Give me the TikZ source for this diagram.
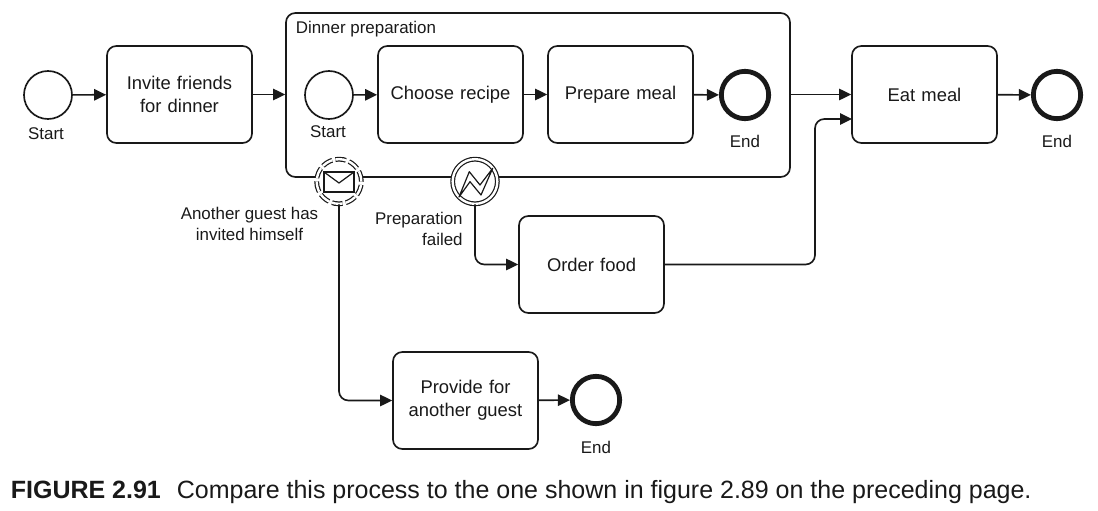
\documentclass[tikz,border=0pt]{standalone}
\usepackage{fontspec}
\setmainfont{Liberation Sans}
\usetikzlibrary{arrows.meta}
\begin{document}
\begin{tikzpicture}[x=0.75pt,y=-0.75pt,
        >={Triangle[length=9pt,width=8.5pt]},
        line width=1.25pt,
        color=black!90,
        task/.style = {draw, rounded corners=7pt, minimum width=108.75pt, minimum height=72.75pt,
                text width=100pt, align=center, inner sep=0pt, font=\fontsize{13.8}{17}\selectfont},
        startevt/.style = {draw, circle, minimum size=36pt, inner sep=0pt},
        endevt/.style = {draw, circle, line width=3.6pt, minimum size=35.5pt, inner sep=0pt},
        boundevt/.style = {draw, circle, double, double distance=1.8pt, line width=0.9pt, fill=white,
                minimum size=33.5pt, inner sep=0pt},
        lbl/.style = {inner sep=0pt, align=center, font=\fontsize{12.7}{15.75}\selectfont},
        flow/.style = {->, rounded corners=7pt},
    ]
    \useasboundingbox (0,0) rectangle (1098,510);

    \node[draw, rounded corners=7pt, minimum width=378pt, minimum height=123pt, inner sep=0pt] (dinner) at (538,95) {};
    \node[lbl, anchor=west] (dinnerlbl) at (295,29) {Dinner preparation};

    \node[startevt] (start) at (48,95) {};
    \node[lbl] (startlbl) at (46,134) {Start};
    \node[task] (invite) at (179.5,94.5) {Invite friends\\for dinner};

    \node[startevt] (innerstart) at (329,95) {};
    \node[lbl] (innerstartlbl) at (328,132) {Start};
    \node[task] (choose) at (450.5,94.5) {Choose recipe};
    \node[task] (prepare) at (620.5,94.5) {Prepare meal};
    \node[endevt] (innerend) at (745,95) {};
    \node[lbl] (innerendlbl) at (745,141.5) {End};

    \node[task] (eat) at (924.5,94.5) {Eat meal};
    \node[endevt] (end) at (1057,95) {};
    \node[lbl] (endlbl) at (1057,141.5) {End};

    \node[task] (order) at (591.5,264.5) {Order food};
    \node[task] (provide) at (465.5,400.5) {Provide for\\another guest};
    \node[endevt] (guestend) at (596,400) {};
    \node[lbl] (guestendlbl) at (596,447.5) {End};

    % boundary events
    \node[boundevt, dashed, dash pattern=on 8pt off 2.5pt] (msg) at (339,181.5) {};
    \node[boundevt] (err) at (475,181.5) {};
    \node[lbl] (msglbl) at (249.5,224) {Another guest has\\invited himself};
    \node[lbl, anchor=north east, align=right] (errlbl) at (463.5,211) {Preparation\\failed};

    \draw[line width=0.9pt] (324,172) rectangle (354,192);
    \draw[line width=0.9pt] (324,172) -- (339,183) -- (354,172);
    \draw[line width=0.9pt, line join=round] (459,197) -- (469.3,171.7) -- (480,185) -- (492.7,168.3) -- (481,195) -- (470,181.7) -- cycle;

    \coordinate (eatin) at (852,119);
    \coordinate (turn) at (815,119);

    \draw[->] (start) -- (invite);
    \draw[->] (invite) -- (dinner.west |- invite);
    \draw[->] (innerstart) -- (choose);
    \draw[->] (choose) -- (prepare);
    \draw[->] (prepare) -- (innerend);
    \draw[->] (dinner.east |- eat) -- (eat);
    \draw[->] (eat) -- (end);
    \draw[flow] (err.south) |- (order.west);
    \draw[flow] (order.east) -| (turn) -- (eatin);
    \draw[flow] (msg.south) |- (provide.west);
    \draw[->] (provide) -- (guestend);

    \node[anchor=base west, inner sep=0pt, font=\fontsize{18.75}{22}\selectfont] (caption) at (10,498)
        {\textbf{FIGURE 2.91}\hspace{12pt}Compare this process to the one shown in figure 2.89 on the preceding page.};
\end{tikzpicture}
\end{document}
